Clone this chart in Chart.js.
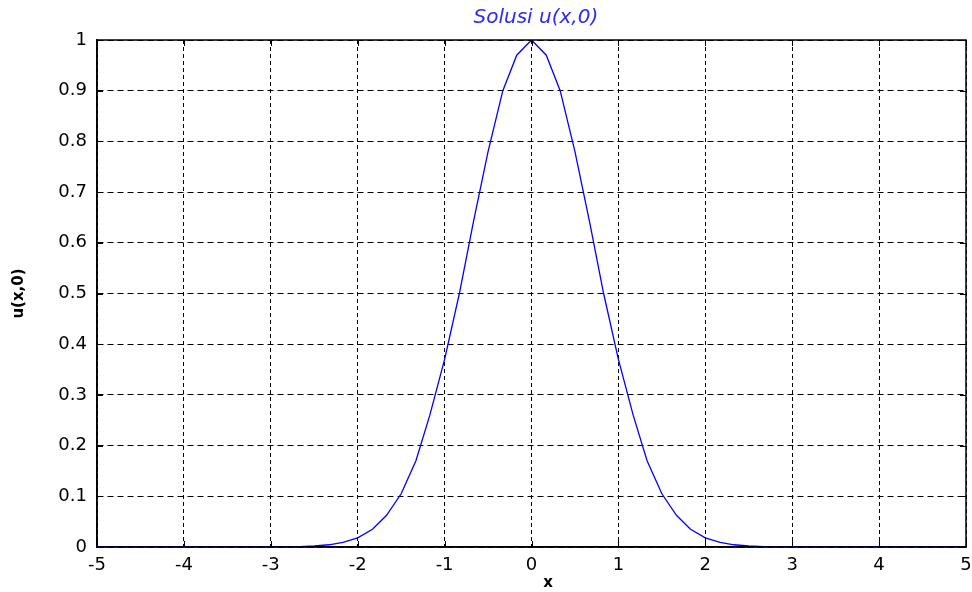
<!DOCTYPE html>
<html>
<head>
<meta charset="utf-8">
<script src="https://cdn.jsdelivr.net/npm/chart.js@4/dist/chart.umd.min.js"></script>
<style>
  html, body { margin: 0; padding: 0; background: #fff; }
  #wrap { width: 972px; height: 592px; }
</style>
</head>
<body>
<div id="wrap"><canvas id="solusiPlot" width="972" height="592"></canvas></div>
<script>
// values (sample step about 1/6)
const xValues = [-5, -4.83, -4.67, -4.5, -4.33, -4.17, -4, -3.83, -3.67, -3.5, -3.33, -3.17,
                 -3, -2.83, -2.67, -2.5, -2.33, -2.17, -2, -1.83, -1.67, -1.5, -1.33, -1.17,
                 -1, -0.83, -0.67, -0.5, -0.33, -0.17, 0,
                 0.17, 0.33, 0.5, 0.67, 0.83, 1, 1.17, 1.33, 1.5, 1.67, 1.83, 2,
                 2.17, 2.33, 2.5, 2.67, 2.83, 3, 3.17, 3.33, 3.5, 3.67, 3.83, 4,
                 4.17, 4.33, 4.5, 4.67, 4.83, 5];
const uValues = [0, 0, 0, 0, 0, 0, 0, 0, 0, 0, 0, 0,
                 0.0001, 0.0003, 0.0008, 0.002, 0.0044, 0.009, 0.018, 0.035, 0.062, 0.105, 0.17, 0.26,
                 0.37, 0.50, 0.64, 0.78, 0.90, 0.97, 1,
                 0.97, 0.90, 0.78, 0.64, 0.50, 0.37, 0.26, 0.17, 0.105, 0.062, 0.035, 0.018,
                 0.009, 0.0044, 0.002, 0.0008, 0.0003, 0.0001, 0, 0, 0, 0, 0, 0,
                 0, 0, 0, 0, 0, 0];
const xTicks = [-5, -4, -3, -2, -1, 0, 1, 2, 3, 4, 5];
const yTicks = [0, 0.1, 0.2, 0.3, 0.4, 0.5, 0.6, 0.7, 0.8, 0.9, 1];

/**
 * frame round the plot area plus small inward tick marks (matlab look)
 */
const frameTicks = {
    id: 'frameTicks',
    afterDraw(chart) {
        let ctx = chart.ctx;
        let a = chart.chartArea;
        let sx = chart.scales.x;
        let sy = chart.scales.y;
        ctx.save();
        ctx.strokeStyle = '#000';
        ctx.lineWidth = 1;
        ctx.setLineDash([]);
        ctx.beginPath();
        xTicks.forEach(function(v){
            let px = Math.round(sx.getPixelForValue(v)) + 0.5;
            ctx.moveTo(px, a.bottom); ctx.lineTo(px, a.bottom - 6);
            ctx.moveTo(px, a.top); ctx.lineTo(px, a.top + 6);
        });
        yTicks.forEach(function(v){
            let py = Math.round(sy.getPixelForValue(v)) + 0.5;
            ctx.moveTo(a.left, py); ctx.lineTo(a.left + 6, py);
            ctx.moveTo(a.right, py); ctx.lineTo(a.right - 6, py);
        });
        ctx.stroke();
        ctx.lineWidth = 1.5;
        ctx.strokeRect(a.left, a.top, a.right - a.left, a.bottom - a.top);
        ctx.restore();
    }
};

/**
 * plot title on top and the x label under the axis
 */
const textLabels = {
    id: 'textLabels',
    afterDraw(chart){
        let ctx = chart.ctx;
        let a = chart.chartArea;
        let sx = chart.scales.x;
        ctx.save();
        ctx.textAlign = 'center';
        ctx.textBaseline = 'middle';
        ctx.font = 'italic 20px "DejaVu Sans", sans-serif';
        ctx.fillStyle = '#2a2aff';
        ctx.fillText('Solusi u(x,0)', sx.getPixelForValue(0.05), a.top - 22);
        ctx.font = 'bold 15px "DejaVu Sans", sans-serif';
        ctx.fillStyle = '#000';
        ctx.fillText('x', sx.getPixelForValue(0.19), chart.height - 9);
        ctx.restore();
    }
};

function draw(){
    let plotArea = document.getElementById('solusiPlot');
    let points = [];
    for (let i = 0; i < xValues.length; i++){
        points.push({x: xValues[i], y: uValues[i]});
    }
    Chart.defaults.font.family = '"DejaVu Sans", sans-serif';
    Chart.defaults.color = '#000';

    let chartObject = {};
    chartObject['type'] = 'line';
    chartObject['data'] = {
        datasets: [{
            label: 'u(x,0)',
            data: points,
            borderColor: '#0000ff',
            borderWidth: 1.3,
            pointRadius: 0,
            tension: 0,
            fill: false
        }]
    };
    chartObject['options'] = {
        responsive: false,
        animation: false,
        layout: {padding: {top: 40, left: 0, right: 6, bottom: 0}},
        plugins: {
            legend: {display: false},
            tooltip: {enabled: false},
            title: {display: false}
        },
        scales: {
            x: {
                type: 'linear', min: -5, max: 5,
                afterBuildTicks: function(s){ s.ticks = xTicks.map(v => ({value: v})); },
                afterFit: function(s){ s.height = 45; s.paddingRight = 0; s.paddingLeft = 0; },
                grid: {color: '#000', lineWidth: 1, drawTicks: false},
                border: {display: true, color: '#000', width: 1.5, dash: [4, 3]},
                ticks: {padding: 8, font: {size: 18}, maxRotation: 0,
                        callback: v => String(v)}
            },
            y: {
                type: 'linear', min: 0, max: 1,
                afterBuildTicks: function(s){ s.ticks = yTicks.map(v => ({value: v})); },
                afterFit: function(s){ s.width = 97; },
                grid: {color: '#000', lineWidth: 1, drawTicks: false},
                border: {display: true, color: '#000', width: 1.5, dash: [6, 4]},
                ticks: {padding: 10, font: {size: 18},
                        callback: v => String(Number(v.toFixed(1)))},
                title: {display: true, text: 'u(x,0)', font: {size: 15, weight: 'bold'},
                        padding: {top: 10, bottom: 0}}
            }
        }
    };
    chartObject['plugins'] = [frameTicks, textLabels];

    new Chart(plotArea, chartObject);
}

draw();
</script>
</body>
</html>
